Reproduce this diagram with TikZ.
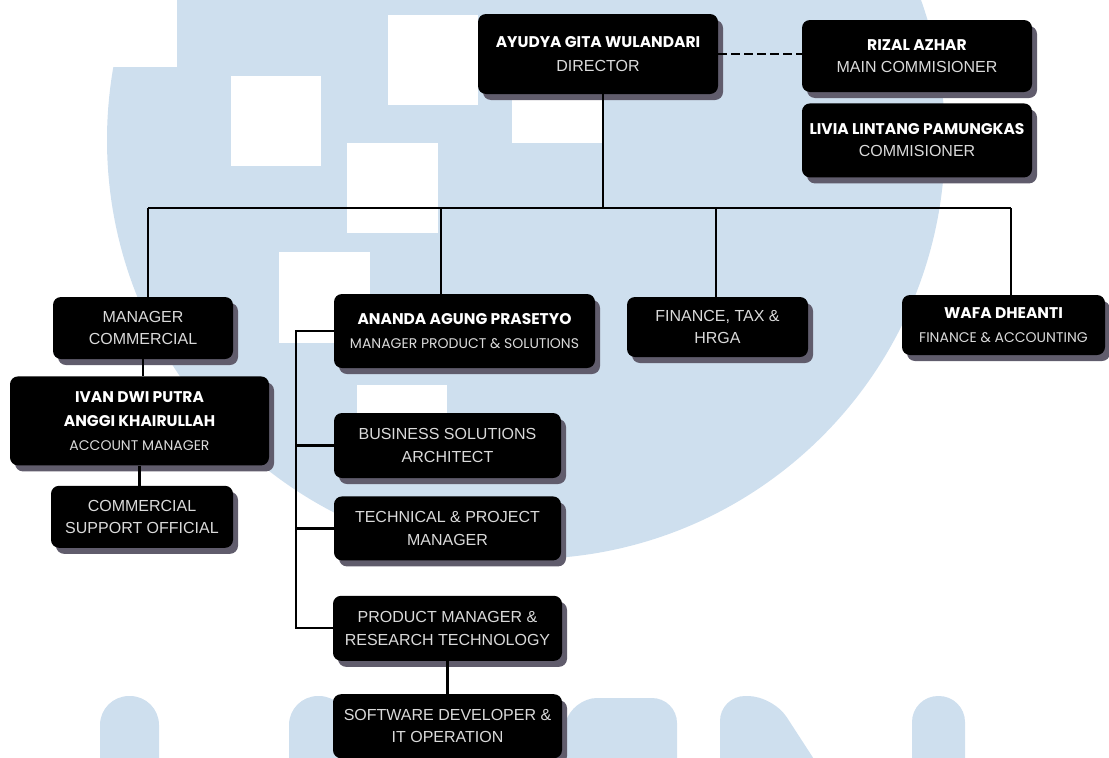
\documentclass[tikz,border=0pt]{standalone}
\usepackage{fontspec}
\setmainfont{Liberation Sans}
\newfontfamily\popfont{Poppins}
\usetikzlibrary{shadows,positioning}
\definecolor{umnblue}{RGB}{206,223,238}
\definecolor{shadowgray}{RGB}{96,92,108}
\definecolor{titlegray}{RGB}{218,218,218}
\tikzset{box/.style={fill=black, rounded corners=8pt, align=center, inner sep=0pt,
		drop shadow={shadow xshift=5pt, shadow yshift=-6pt, fill=shadowgray, opacity=1}},
	namebox/.style={box, font=\fontsize{14}{24}\selectfont},
	deptbox/.style={box, text=titlegray, font=\fontsize{16}{22.5}\selectfont}
}
\tikzstyle{orgline} = [line width=2.2pt, black]
\newcommand{\pname}[1]{{\popfont\bfseries\fontsize{15.5}{24}\selectfont\color{white}#1}}
\newcommand{\ptitle}[1]{{\popfont\fontsize{14}{24}\selectfont\color{titlegray}#1}}
\newcommand{\stitle}[1]{{\fontsize{16}{24}\selectfont\color{titlegray}#1}}

\begin{document}
\begin{tikzpicture}[x=1pt, y=-1pt]
	\useasboundingbox (0,0) rectangle (1109,758);
	% background
	\fill[umnblue] (526,140) circle[radius=419];
	\fill[white] (-5,-5) rectangle (177,67);
	\fill[white] (231,76) rectangle (321,166);
	\fill[white] (388,15) rectangle (478,105);
	\fill[white] (347,143) rectangle (438,233);
	\fill[white] (279,252) rectangle (370,343);
	\fill[white] (512,53) rectangle (602,143);
	\fill[white] (357,385) rectangle (447,475);
	\fill[umnblue, rounded corners=29pt] (100,790) -- (100,696) -- (159,696) -- (159,790) -- cycle;
	\fill[umnblue, rounded corners=29pt] (289,790) -- (289,696) -- (348,696) -- (348,790) -- cycle;
	\fill[umnblue, rounded corners=25pt] (548,790) -- (572,698) -- (677,698) -- (677,790) -- cycle;
	\fill[umnblue, rounded corners=25pt] (720,790) -- (720,696) -- (773,696) -- (834,790) -- cycle;
	\fill[umnblue, rounded corners=26pt] (912,790) -- (912,696) -- (965,696) -- (965,790) -- cycle;

	\node[namebox, minimum width=240pt, minimum height=80pt] (director) at (598,54) {\pname{AYUDYA GITA WULANDARI}\\\stitle{DIRECTOR}};
	\node[namebox, minimum width=230pt, minimum height=72pt] (rizal) at (917,56) {\pname{RIZAL AZHAR}\\[-2pt]\stitle{MAIN COMMISIONER}};
	\node[namebox, minimum width=230pt, minimum height=74pt, below=11pt of rizal] (livia) {\pname{LIVIA LINTANG PAMUNGKAS}\\[-2pt]\stitle{COMMISIONER}};

	\node[deptbox, minimum width=180pt, minimum height=62pt] (mc) at (143,328) {MANAGER\\COMMERCIAL};
	\node[namebox, minimum width=259pt, minimum height=89pt, below=17pt of mc, xshift=-3.5pt] (ivan) {\pname{IVAN DWI PUTRA}\\\pname{ANGGI KHAIRULLAH}\\\ptitle{ACCOUNT MANAGER}};
	\node[deptbox, minimum width=182pt, minimum height=62pt, below=20pt of ivan, xshift=2.5pt] (cso) {COMMERCIAL\\SUPPORT OFFICIAL};

	\node[namebox, minimum width=261pt, minimum height=74pt] (ananda) at (464.5,331) {\pname{ANANDA AGUNG PRASETYO}\\\ptitle{MANAGER PRODUCT \& SOLUTIONS}};
	\node[deptbox, minimum width=227pt, minimum height=65pt] (bsa) at (447.5,445.5) {BUSINESS SOLUTIONS\\ARCHITECT};
	\node[deptbox, minimum width=227pt, minimum height=64pt, below=18pt of bsa] (tpm) {TECHNICAL \& PROJECT\\MANAGER};
	\node[deptbox, minimum width=229pt, minimum height=65pt, below=35pt of tpm] (pmrt) {PRODUCT MANAGER \&\\RESEARCH TECHNOLOGY};
	\node[deptbox, minimum width=229pt, minimum height=64pt, below=33pt of pmrt] (sdit) {SOFTWARE DEVELOPER \&\\IT OPERATION};

	\node[deptbox, minimum width=181pt, minimum height=60pt] (fth) at (717.5,327) {FINANCE, TAX \&\\HRGA};
	\node[namebox, minimum width=203pt, minimum height=60pt] (wafa) at (1003.5,325) {\pname{WAFA DHEANTI}\\\ptitle{FINANCE \& ACCOUNTING}};

	% draw lines
	\coordinate (busL) at (148,208);
	\coordinate (busR) at (1011,208);
	\coordinate (busD) at (603,208);
	\coordinate (busA) at (441,208);
	\coordinate (busF) at (716,208);
	\coordinate (bk) at (296,330);
	\draw[orgline] (busL) -- (busR);
	\draw[orgline] (busD |- director.south) -- (busD);
	\draw[orgline] (busL) -- (busL |- mc.north);
	\draw[orgline] (busA) -- (busA |- ananda.north);
	\draw[orgline] (busF) -- (busF |- fth.north);
	\draw[orgline] (busR) -- (busR |- wafa.north);
	\draw[orgline, line width=2.6pt, dash pattern=on 9pt off 4pt] (director.east) -- (director.east -| rizal.west);
	\draw[orgline] (mc.south) -- (mc.south |- ivan.north);
	\draw[orgline] (ivan.south) -- (ivan.south |- cso.north);
	\draw[orgline] (ananda.west) -| (bk |- pmrt.west) -- (pmrt.west);
	\draw[orgline] (bk |- bsa.west) -- (bsa.west);
	\draw[orgline] (bk |- tpm.west) -- (tpm.west);
	\draw[orgline] (pmrt.south) -- (sdit.north);
\end{tikzpicture}
\end{document}
